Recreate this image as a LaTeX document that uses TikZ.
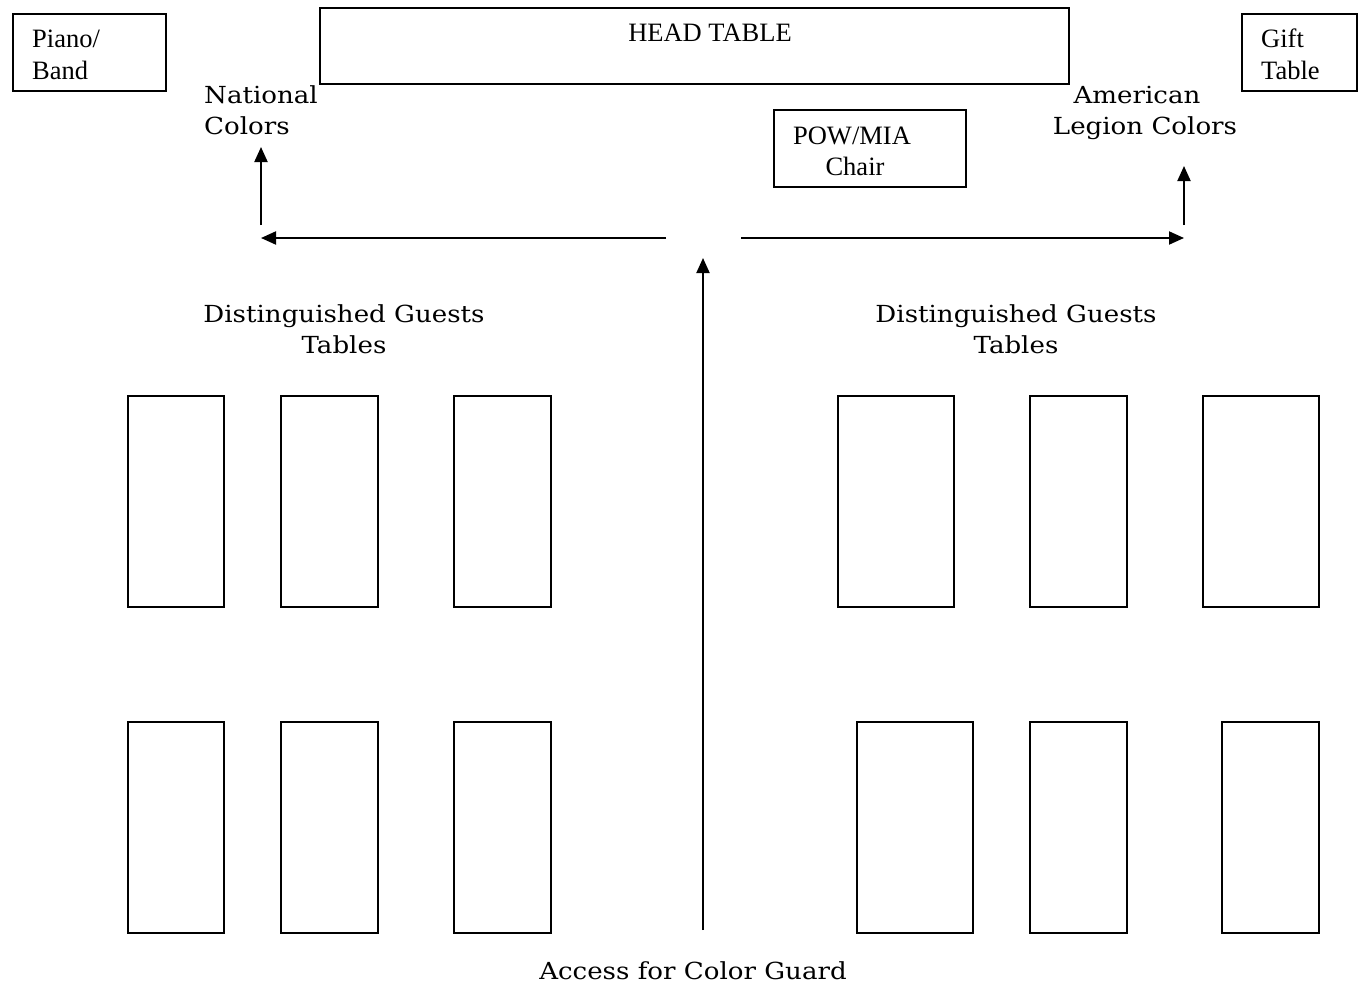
\documentclass[tikz,border=0pt]{standalone}
\usepackage{fontspec}
\setmainfont{Liberation Serif}
\newfontfamily\bk[FakeStretch=1.11]{DejaVu Serif}
\usetikzlibrary{arrows.meta}
\begin{document}
\begin{tikzpicture}[x=1pt,y=-1pt,
  box/.style={draw, line width=1.7pt, rectangle, inner sep=0, anchor=north west},
  tt/.style={font=\fontsize{26.5}{30}\selectfont, inner sep=0},
  bt/.style={font=\bk\fontsize{23.5}{30}\selectfont, inner sep=0},
  arr/.style={-{Triangle[length=15pt,width=13pt]}, line width=2pt}]
\path[use as bounding box, fill=white] (0,0) rectangle (1363,982);
% top boxes
\node[box, minimum width=153pt, minimum height=77pt] (piano) at (12,13) {};
\node[tt, anchor=base west] (piano1) at (32,48) {Piano/};
\node[tt, anchor=base west] (piano2) at (32,80) {Band};
\node[box, minimum width=749pt, minimum height=76pt] (head) at (319,7) {};
\node[tt, anchor=base] (headt) at (710,42) {HEAD TABLE};
\node[box, minimum width=115pt, minimum height=77pt] (gift) at (1241,13) {};
\node[tt, anchor=base west] (gift1) at (1261,48) {Gift};
\node[tt, anchor=base west] (gift2) at (1261,80) {Table};
\node[box, minimum width=192pt, minimum height=77pt] (pow) at (773,109) {};
\node[tt, anchor=base] (pow1) at (852,144) {POW/MIA};
\node[tt, anchor=base] (pow2) at (855,175) {Chair};
% colour labels
\node[bt, anchor=base west] (nat1) at (204,103) {National};
\node[bt, anchor=base west] (nat2) at (204,134) {Colors};
\node[bt, anchor=base] (am1) at (1137,103) {American};
\node[bt, anchor=base] (am2) at (1145,134) {Legion Colors};
% guest labels
\node[bt, anchor=base] (dgl1) at (344,322) {Distinguished Guests};
\node[bt, anchor=base] (dgl2) at (344,353) {Tables};
\node[bt, anchor=base] (dgr1) at (1016,322) {Distinguished Guests};
\node[bt, anchor=base] (dgr2) at (1016,353) {Tables};
\node[bt, anchor=base] (access) at (693,979) {Access for Color Guard};
% tables
\foreach \n/\x/\y/\w in {l1/127/395/96, l2/280/395/97, l3/453/395/97,
  r1/837/395/116, r2/1029/395/97, r3/1202/395/116,
  l4/127/721/96, l5/280/721/97, l6/453/721/97,
  r4/856/721/116, r5/1029/721/97, r6/1221/721/97}
  \node[box, minimum width=\w pt, minimum height=211pt] (t\n) at (\x,\y) {};
% route
\coordinate (cbot) at (703,930);
\coordinate (ctop) at (703,258);
\coordinate (hl0) at (666,238);
\coordinate (hl1) at (261,238);
\coordinate (hr0) at (741,238);
\coordinate (hr1) at (1184,238);
\coordinate (vl0) at (261,225);
\coordinate (vl1) at (261,147);
\coordinate (vr0) at (1184,225);
\coordinate (vr1) at (1184,166);
\draw[arr] (cbot) -- (ctop);
\draw[arr] (hl0) -- (hl1);
\draw[arr] (hr0) -- (hr1);
\draw[arr] (vl0) -- (vl1);
\draw[arr] (vr0) -- (vr1);
\end{tikzpicture}
\end{document}
